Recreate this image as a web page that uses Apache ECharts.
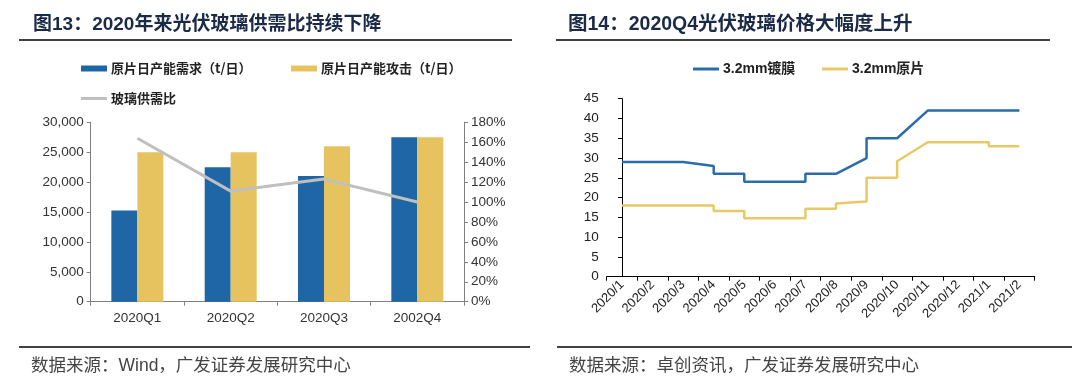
<!DOCTYPE html>
<html><head><meta charset="utf-8">
<script src="https://cdn.jsdelivr.net/npm/echarts@6/dist/echarts.min.js"></script>
<style>html,body{margin:0;padding:0;background:#fff}#c{width:1080px;height:389px}</style>
</head><body><div id="c"></div>
<script>
// ---- Figure 13 data ----
const quarters = ['2020Q1', '2020Q2', '2020Q3', '2002Q4'];
const demand = [15250, 22500, 21000, 27500];   // 原片日产能需求（t/日）
const supply = [25000, 25000, 26000, 27500];   // 原片日产能攻击（t/日）
const ratio = [164, 111, 123, 100];            // 玻璃供需比 (%)

// ---- Figure 14 data ----
const months = ['2020/1','2020/2','2020/3','2020/4','2020/5','2020/6','2020/7','2020/8','2020/9','2020/10','2020/11','2020/12','2021/1','2021/2'];
const coatedX = [0, 2, 3, 3, 4, 4, 6, 6, 7, 8, 8, 9, 10, 13];
const coatedY = [29, 29, 28, 26, 26, 24, 24, 26, 26, 30, 35, 35, 42, 42];
const rawX = [0, 3, 3, 4, 4, 6, 6, 7, 7, 8, 8, 9, 9, 10, 12, 12, 13];
const rawY = [18, 18, 16.6, 16.6, 14.8, 14.8, 17.2, 17.2, 18.5, 19, 25, 25, 29.2, 34, 34, 33, 33];

const SANS = '"Liberation Sans", Arial, "Noto Sans CJK SC", sans-serif';
const CJK = '"Noto Sans CJK SC", sans-serif';
const BLUE = '#1F66A6', YELLOW = '#E7C35F', GRAY = '#BFBFBF';
const BLUE2 = '#2A6DAA', YELLOW2 = '#E8C965';

const chart = echarts.init(document.getElementById('c'), null, {renderer: 'canvas'});

function legendItem(name, left, top, color, h, font, bold) {
  return {
    data: [name], left: left, top: top, padding: 0, itemGap: 0,
    itemWidth: 26, itemHeight: h, icon: 'rect',
    itemStyle: {color: color, borderWidth: 0},
    lineStyle: {width: 0},
    textStyle: {fontFamily: font, fontSize: bold ? 14 : 13, fontWeight: 'bold', color: '#222', padding: [0,0,0,-1]}
  };
}

chart.setOption({
  animation: false,
  backgroundColor: '#fff',
  legend: [
    legendItem('原片日产能需求（t/日）', 81, 62, BLUE, 6, CJK, false),
    legendItem('原片日产能攻击（t/日）', 291, 62, YELLOW, 6, CJK, false),
    legendItem('玻璃供需比', 81, 92, GRAY, 3, CJK, false),
    legendItem('3.2mm镀膜', 693, 62, BLUE2, 3, SANS, true),
    legendItem('3.2mm原片', 822, 62, YELLOW2, 3, SANS, true)
  ],
  grid: [
    {left: 90.7, top: 122.3, width: 373.3, height: 179.4},
    {left: 606.7, top: 98.7, width: 428, height: 178}
  ],
  xAxis: [
    {gridIndex: 0, type: 'category', data: quarters,
     axisLine: {lineStyle: {color: '#808080', width: 1}},
     axisTick: {show: true, alignWithLabel: false, length: 4, lineStyle: {color: '#808080'}},
     axisLabel: {color: '#333', fontSize: 13.5, fontFamily: SANS, margin: 10}},
    {gridIndex: 1, type: 'category', data: months, boundaryGap: true,
     axisLine: {lineStyle: {color: '#000', width: 1}},
     axisTick: {show: true, interval: 0, length: 4, lineStyle: {color: '#000'}},
     axisLabel: {interval: 0, rotate: 45, color: '#222', fontSize: 13, fontFamily: SANS, margin: 6}},
    {gridIndex: 1, type: 'value', min: -0.5, max: 13.5, show: false}
  ],
  yAxis: [
    {gridIndex: 0, type: 'value', min: 0, max: 30000, interval: 5000,
     axisLine: {show: true, lineStyle: {color: '#808080'}},
     axisTick: {show: true, length: 4, lineStyle: {color: '#808080'}},
     splitLine: {show: false},
     axisLabel: {color: '#333', fontSize: 13.5, fontFamily: SANS, margin: 7,
       formatter: v => v.toLocaleString('en-US')}},
    {gridIndex: 0, type: 'value', position: 'right', min: 0, max: 180, interval: 20,
     axisLine: {show: true, lineStyle: {color: '#808080'}},
     axisTick: {show: true, length: 4, lineStyle: {color: '#808080'}},
     splitLine: {show: false},
     axisLabel: {color: '#333', fontSize: 13.5, fontFamily: SANS, margin: 7, formatter: '{value}%'}},
    {gridIndex: 1, type: 'value', min: 0, max: 45, interval: 5,
     axisLine: {show: true, lineStyle: {color: '#000'}},
     axisTick: {show: true, length: 4, lineStyle: {color: '#000'}},
     splitLine: {show: false},
     axisLabel: {color: '#222', fontSize: 13.5, fontFamily: SANS, margin: 8}}
  ],
  series: [
    {name: '原片日产能需求（t/日）', type: 'bar', xAxisIndex: 0, yAxisIndex: 0, data: demand,
     barWidth: 26, barGap: '0%', itemStyle: {color: BLUE}},
    {name: '原片日产能攻击（t/日）', type: 'bar', xAxisIndex: 0, yAxisIndex: 0, data: supply,
     barWidth: 26, barGap: '0%', itemStyle: {color: YELLOW}},
    {name: '玻璃供需比', type: 'line', xAxisIndex: 0, yAxisIndex: 1, data: ratio,
     showSymbol: false, symbol: 'none', lineStyle: {color: GRAY, width: 3}, itemStyle: {color: GRAY}},
    {name: '3.2mm镀膜', type: 'line', xAxisIndex: 2, yAxisIndex: 2,
     data: coatedX.map((x, i) => [x, coatedY[i]]),
     showSymbol: false, symbol: 'none', lineStyle: {color: BLUE2, width: 2.5}, itemStyle: {color: BLUE2}},
    {name: '3.2mm原片', type: 'line', xAxisIndex: 2, yAxisIndex: 2,
     data: rawX.map((x, i) => [x, rawY[i]]),
     showSymbol: false, symbol: 'none', lineStyle: {color: YELLOW2, width: 2.5}, itemStyle: {color: YELLOW2}}
  ],
  graphic: [
    {type: 'text', x: 33, y: 25, style: {text: '图13：2020年来光伏玻璃供需比持续下降', fill: '#1B2A47',
      font: 'bold 19px ' + SANS, verticalAlign: 'middle'}},
    {type: 'line', shape: {x1: 19, y1: 40, x2: 512, y2: 40}, style: {stroke: '#000', lineWidth: 1.5}},
    {type: 'text', x: 568, y: 25, style: {text: '图14：2020Q4光伏玻璃价格大幅度上升', fill: '#1B2A47',
      font: 'bold 19.5px ' + SANS, verticalAlign: 'middle'}},
    {type: 'line', shape: {x1: 556, y1: 40, x2: 1050, y2: 40}, style: {stroke: '#000', lineWidth: 1.5}},
    {type: 'line', shape: {x1: 19, y1: 347, x2: 530, y2: 347}, style: {stroke: '#000', lineWidth: 1.5}},
    {type: 'line', shape: {x1: 557, y1: 347, x2: 1072, y2: 347}, style: {stroke: '#000', lineWidth: 1.5}},
    {type: 'text', x: 31, y: 366, style: {text: '数据来源：Wind，广发证券发展研究中心', fill: '#444',
      font: '17.5px ' + SANS, verticalAlign: 'middle'}},
    {type: 'text', x: 569, y: 366, style: {text: '数据来源：卓创资讯，广发证券发展研究中心', fill: '#444',
      font: '17.5px ' + SANS, verticalAlign: 'middle'}}
  ]
});
</script>
</body></html>
